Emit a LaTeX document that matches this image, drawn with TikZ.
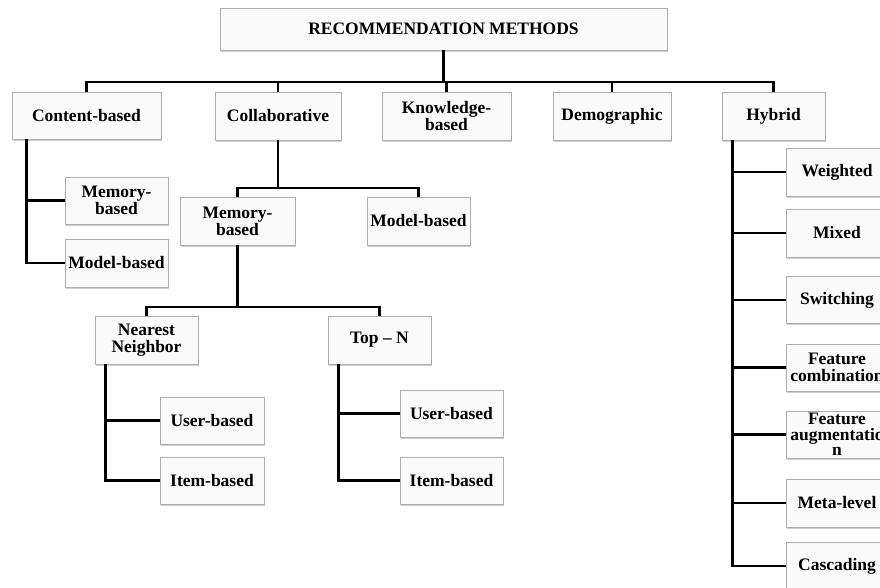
\documentclass[tikz,border=0pt]{standalone}
\usepackage{fontspec}
\setmainfont{Liberation Serif}
\usetikzlibrary{shadows}
\begin{document}
\begin{tikzpicture}[x=1pt,y=-1pt,
  box/.style={draw=black!32, fill=black!2, line width=0.8pt, inner sep=1pt, align=center,
    font=\fontsize{17.5}{17}\selectfont\bfseries,
    drop shadow={shadow xshift=1.3pt, shadow yshift=-1.8pt, opacity=0.35, fill=black!55}},
  ln/.style={line width=2.6pt, black}]
\useasboundingbox (0,0) rectangle (880,587);
\clip (0,0) rectangle (880,587);
% level 0 and 1
\node[box, minimum width=447pt, minimum height=42pt] (top) at (443.5,29) {RECOMMENDATION METHODS};
\node[box, minimum width=149pt, minimum height=47pt] (cb) at (86.5,115.5) {Content-based};
\node[box, minimum width=126pt, minimum height=48pt] (co) at (278,116) {Collaborative};
\node[box, minimum width=129pt, minimum height=48pt] (kb) at (446.5,116) {Knowledge-\\based};
\node[box, minimum width=118pt, minimum height=48pt] (de) at (612,116) {Demographic};
\node[box, minimum width=103pt, minimum height=48pt] (hy) at (773.5,116) {Hybrid};
% content-based children
\node[box, minimum width=103pt, minimum height=47pt] (cm) at (116.5,200.5) {Memory-\\based};
\node[box, minimum width=103pt, minimum height=48pt] (cmo) at (116.5,263) {Model-based};
% collaborative children
\node[box, minimum width=115pt, minimum height=48pt] (mem) at (237.5,221) {Memory-\\based};
\node[box, minimum width=103pt, minimum height=48pt] (mod) at (418.5,221) {Model-based};
\node[box, minimum width=103pt, minimum height=48pt] (nn) at (146.5,340) {Nearest\\Neighbor};
\node[box, minimum width=103pt, minimum height=48pt] (tn) at (379.5,340) {Top -- N};
\node[box, minimum width=104pt, minimum height=47pt] (nu) at (212,420.5) {User-based};
\node[box, minimum width=104pt, minimum height=47pt] (ni) at (212,480.5) {Item-based};
\node[box, minimum width=103pt, minimum height=47pt] (tu) at (451.5,413.5) {User-based};
\node[box, minimum width=103pt, minimum height=47pt] (ti) at (451.5,480.5) {Item-based};
% hybrid children
\node[box, minimum width=102pt, minimum height=48pt] (hw) at (837,172) {Weighted};
\node[box, minimum width=102pt, minimum height=48pt] (hm) at (837,233) {Mixed};
\node[box, minimum width=102pt, minimum height=47pt] (hs) at (837,300) {Switching};
\node[box, minimum width=102pt, minimum height=47pt] (hf) at (837,367.5) {Feature\\combination};
\node[box, minimum width=102pt, minimum height=47pt, font=\fontsize{17.5}{15.5}\selectfont\bfseries] (ha) at (837,434.5) {Feature\\augmentatio\\n};
\node[box, minimum width=102pt, minimum height=48pt] (hl) at (837,503) {Meta-level};
\node[box, minimum width=102pt, minimum height=48pt] (hc) at (837,566) {Cascading};
% connectors
\coordinate (bus) at (0,82);
\draw[ln] (top.south) -- (top.south |- bus);
\draw[ln] (cb.north) -- (cb.north |- bus) -- (hy.north |- bus) -- (hy.north);
\foreach \n in {co,kb,de} \draw[ln] (\n.north) -- (\n.north |- bus);
\coordinate (cbv) at ([xshift=15pt]cb.south west);
\draw[ln] (cbv) |- (cm.west);
\draw[ln] (cbv) |- (cmo.west);
\coordinate (cbus) at (0,188);
\draw[ln] (co.south) -- (co.south |- cbus);
\draw[ln] (mem.north) -- (mem.north |- cbus) -- (mod.north |- cbus) -- (mod.north);
\coordinate (mbus) at (0,307);
\draw[ln] (mem.south) -- (mem.south |- mbus);
\draw[ln] (nn.north) -- (nn.north |- mbus) -- (tn.north |- mbus) -- (tn.north);
\coordinate (nnv) at ([xshift=11pt]nn.south west);
\draw[ln] (nnv) |- (nu.west);
\draw[ln] (nnv) |- (ni.west);
\coordinate (tnv) at ([xshift=11pt]tn.south west);
\draw[ln] (tnv) |- (tu.west);
\draw[ln] (tnv) |- (ti.west);
\coordinate (hyv) at ([xshift=11pt]hy.south west);
\foreach \n in {hw,hm,hs,hf,ha,hl,hc} \draw[ln] (hyv) |- (\n.west);
\end{tikzpicture}
\end{document}
